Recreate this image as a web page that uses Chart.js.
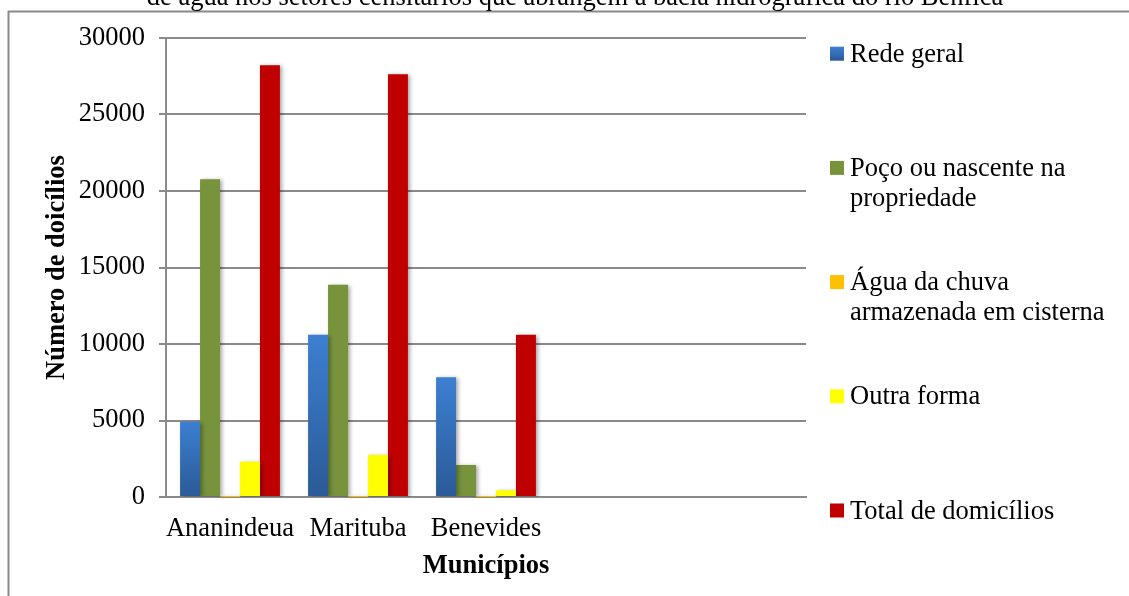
<!DOCTYPE html>
<html>
<head>
<meta charset="utf-8">
<script src="https://cdn.jsdelivr.net/npm/chart.js@4/dist/chart.umd.min.js"></script>
<style>
  html, body { margin: 0; padding: 0; background: #fff; overflow: hidden; }
  canvas { display: block; }
</style>
</head>
<body>
<canvas id="c" width="1129" height="596"></canvas>
<script>
// ---- data ----
const titleText = 'de água nos setores censitários que abrangem a bacia hidrográfica do rio Benfica';
const categories = ['Ananindeua', 'Marituba', 'Benevides', '', ''];
const seriesNames = ['Rede geral', 'Poço ou nascente na propriedade', 'Água da chuva armazenada em cisterna', 'Outra forma', 'Total de domicílios'];
const redeGeral = [4920, 10600, 7830, null, null];
const pocoNascente = [20770, 13880, 2090, null, null];
const aguaChuva = [5, 5, 3, null, null];
const outraForma = [2310, 2750, 440, null, null];
const totalDomicilios = [28220, 27630, 10600, null, null];
const yTitle = 'Número de doicílios';
const xTitle = 'Municípios';
const yMin = 0, yMax = 30000, yStep = 5000;

// ---- styles ----
const FONT = "'Liberation Serif', 'Times New Roman', serif";
const FS = 26.5;
const GRID = '#8a8a8a';
const colors = ['#3570BC', '#77933C', '#FFC000', '#FFFF00', '#C00000'];

function blueGradient(ctx) {
  const chart = ctx.chart;
  const ca = chart.chartArea;
  if (!ca || ctx.type !== 'data') return colors[0];
  const y = chart.scales.y;
  const v = ctx.raw;
  if (v == null) return colors[0];
  const top = y.getPixelForValue(v), bot = y.getPixelForValue(0);
  if (!isFinite(top) || bot - top < 1) return colors[0];
  const g = chart.ctx.createLinearGradient(0, top, 0, bot);
  g.addColorStop(0, '#3C7FD2');
  g.addColorStop(1, '#2B5A96');
  return g;
}

const seriesData = [redeGeral, pocoNascente, aguaChuva, outraForma, totalDomicilios];
const datasets = seriesData.map((d, i) => ({
  label: seriesNames[i],
  data: d,
  backgroundColor: i === 0 ? blueGradient : colors[i],
  borderWidth: 0,
  categoryPercentage: 0.78,
  barPercentage: 1.0
}));

const framePlugin = {
  id: 'frame',
  beforeDraw(chart) {
    const c = chart.ctx;
    c.save();
    c.fillStyle = '#fff';
    c.fillRect(0, 0, chart.width, chart.height);
    c.strokeStyle = GRID;
    c.lineWidth = 2;
    c.strokeRect(8.5, 11.5, chart.width + 20, chart.height + 20);
    // cut-off title
    c.fillStyle = '#000';
    c.font = FS + 'px ' + FONT;
    c.textAlign = 'center';
    c.textBaseline = 'alphabetic';
    c.fillText(titleText, 575, 5);
    c.restore();
  }
};

const shadowPlugin = {
  id: 'barShadow',
  beforeDatasetsDraw(chart) {
    const c = chart.ctx;
    c.save();
    c.shadowColor = 'rgba(0,0,0,0.35)';
    c.shadowBlur = 4;
    c.shadowOffsetX = 2;
    c.shadowOffsetY = 1;
  },
  afterDatasetsDraw(chart) {
    chart.ctx.restore();
  }
};

function wrapText(c, text, maxW) {
  const words = text.split(' ');
  const lines = [];
  let cur = '';
  for (const w of words) {
    const t = cur ? cur + ' ' + w : w;
    if (c.measureText(t).width > maxW && cur) { lines.push(cur); cur = w; }
    else cur = t;
  }
  if (cur) lines.push(cur);
  return lines;
}

const legendPlugin = {
  id: 'sideLegend',
  afterDraw(chart) {
    const c = chart.ctx;
    c.save();
    c.font = FS + 'px ' + FONT;
    c.textAlign = 'left';
    c.textBaseline = 'alphabetic';
    chart.data.datasets.forEach((ds, i) => {
      const base = 61.7 + i * 114.2;
      const mx = 830, my = base - 15, ms = 14;
      if (i === 0) {
        const g = c.createLinearGradient(0, my, 0, my + ms);
        g.addColorStop(0, '#3C7FD2');
        g.addColorStop(1, '#2B5A96');
        c.fillStyle = g;
      } else {
        c.fillStyle = colors[i];
      }
      c.fillRect(mx, my, ms, ms);
      c.fillStyle = '#000';
      const lines = wrapText(c, ds.label, 274);
      lines.forEach((ln, k) => c.fillText(ln, 850, base + k * 30));
    });
    c.restore();
  }
};

new Chart(document.getElementById('c'), {
  type: 'bar',
  data: { labels: categories, datasets },
  plugins: [framePlugin, shadowPlugin, legendPlugin],
  options: {
    responsive: false,
    animation: false,
    devicePixelRatio: 1,
    layout: { padding: { top: 38, right: 323, bottom: 0, left: 0 } },
    plugins: {
      legend: { display: false },
      title: { display: false },
      tooltip: { enabled: false }
    },
    scales: {
      x: {
        grid: { display: false, drawTicks: false, tickLength: 0 },
        border: { display: true, color: GRID, width: 2 },
        ticks: { color: '#000', font: { family: FONT, size: FS }, padding: 16, maxRotation: 0, autoSkip: false },
        title: { display: true, text: xTitle, color: '#000', font: { family: FONT, size: FS, weight: 'bold' }, padding: { top: 0, bottom: 14 } },
        afterFit(s) { s.height = 99; }
      },
      y: {
        min: yMin, max: yMax,
        grid: { color: GRID, lineWidth: 2, tickLength: 7, drawTicks: true },
        border: { display: true, color: GRID, width: 2 },
        ticks: { stepSize: yStep, color: '#000', font: { family: FONT, size: FS }, padding: 14, callback: v => String(v) },
        title: { display: true, text: yTitle, color: '#000', font: { family: FONT, size: FS, weight: 'bold' }, padding: { top: 41, bottom: 0 } },
        afterFit(s) { s.width = 166; }
      }
    }
  }
});
</script>
</body>
</html>
